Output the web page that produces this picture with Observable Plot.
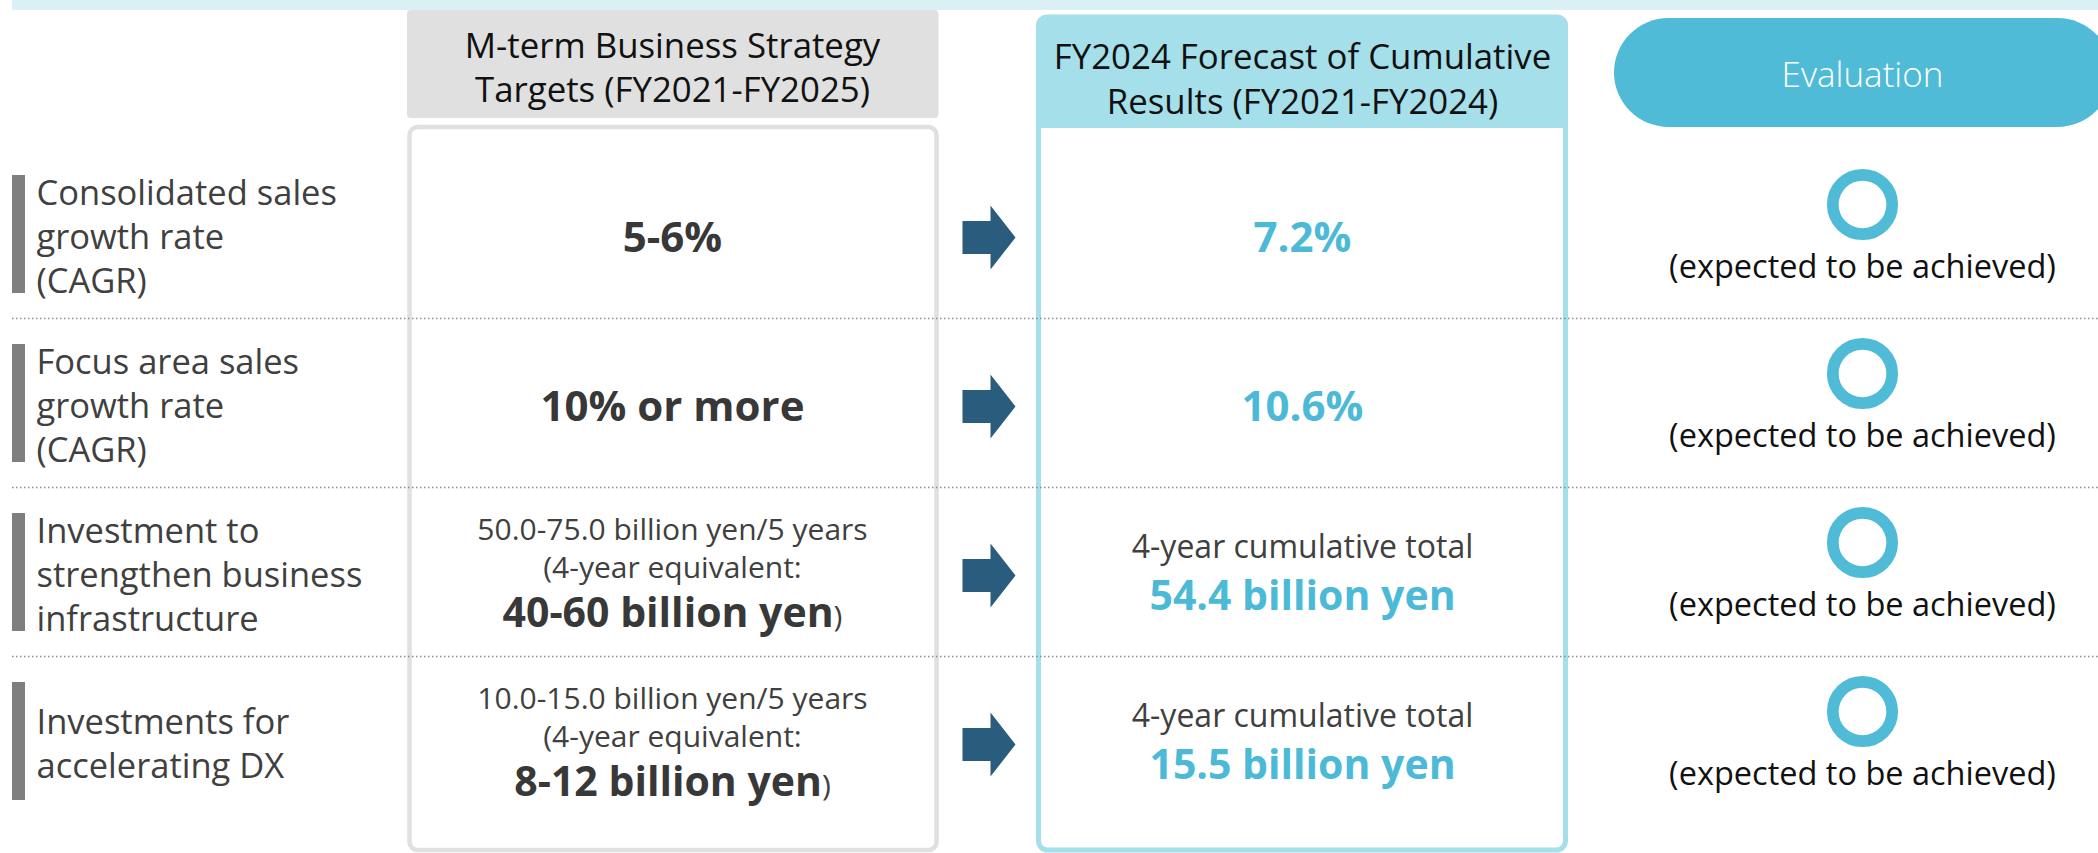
<!DOCTYPE html>
<html>
<head>
<meta charset="utf-8">
<script src="https://cdn.jsdelivr.net/npm/d3@7"></script>
<script src="https://cdn.jsdelivr.net/npm/@observablehq/plot@0.6"></script>
<style>
  html, body { margin: 0; padding: 0; background: #ffffff; }
  #chart svg { display: block; }
</style>
</head>
<body>
<div id="chart"></div>
<script>
// ---------------- data ----------------
const columnHeaders = [
  "M-term Business Strategy\nTargets (FY2021-FY2025)",
  "FY2024 Forecast of Cumulative\nResults (FY2021-FY2024)",
  "Evaluation"
];
const metricLabels = [
  ["Consolidated sales", "growth rate", "(CAGR)"],
  ["Focus area sales", "growth rate", "(CAGR)"],
  ["Investment to", "strengthen business", "infrastructure"],
  ["Investments for", "accelerating DX"]
];
const targetNotes = [
  [],
  [],
  ["50.0-75.0 billion yen/5 years", "(4-year equivalent:"],
  ["10.0-15.0 billion yen/5 years", "(4-year equivalent:"]
];
const targetValues = ["5-6%", "10% or more", "40-60 billion yen", "8-12 billion yen"];
const targetClosers = ["", "", ")", ")"];
const resultNotes = ["", "", "4-year cumulative total", "4-year cumulative total"];
const resultValues = ["7.2%", "10.6%", "54.4 billion yen", "15.5 billion yen"];
const evaluationAchieved = [true, true, true, true];
const evaluationTexts = [
  "(expected to be achieved)",
  "(expected to be achieved)",
  "(expected to be achieved)",
  "(expected to be achieved)"
];

// ---------------- layout & style ----------------
const W = 2098, H = 853;
const FONT = "'Open Sans', 'Noto Sans', sans-serif";
const ROW0 = 233.5, ROWSTEP = 169;
const rowC = i => ROW0 + ROWSTEP * i;
const X_LABEL = 36, X_TARGET = 672, X_RESULT = 1302, X_EVAL = 1862, X_ARROW = 988.5;
const FS_LABEL = 34.5, FS_HEAD = 34.8, FS_NOTE = 30, FS_NOTE3 = 32, FS_BIG = 42, FS_BIG2 = 41, FS_EVAL = 32.5;
const baseY = (b, fs) => b - 0.32 * fs;  // Plot centres single-line text with dy=0.32em
const C_TEXT = "#404040", C_BOLD = "#383838", C_BLUE = "#4cbad7", C_HEAD = "#111111";
const arrowShape = [[-26.5,-16.5],[1.5,-16.5],[1.5,-32],[26.5,0],[1.5,32],[1.5,16.5],[-26.5,16.5]];
const NOTE_LH = 38;

const idx = d3.range(metricLabels.length);

// measure text widths for the mixed-weight line
const ctx = document.createElement("canvas").getContext("2d");
function textWidth(str, weight, size) {
  ctx.font = `${weight} ${size}px ${FONT}`;
  return ctx.measureText(str).width;
}

// ---------------- derived mark tables ----------------
const labelRows = idx.map(i => ({i, text: metricLabels[i].join("\n")}));

const targetSingle = idx.filter(i => targetNotes[i].length === 0)
  .map(i => ({i, text: targetValues[i]}));
const targetNoteBlocks = idx.filter(i => targetNotes[i].length > 0)
  .map(i => ({i, n: targetNotes[i].length, text: targetNotes[i].join("\n")}));
const targetMulti = idx.filter(i => targetNotes[i].length > 0).map(i => {
  const wb = textWidth(targetValues[i], "bold", FS_BIG2);
  const wc = textWidth(targetClosers[i], "normal", FS_NOTE);
  const start = X_TARGET - (wb + wc) / 2;
  return {i, text: targetValues[i], closer: targetClosers[i], xb: start + wb / 2, xc: start + wb};
});

const resultSingle = idx.filter(i => resultNotes[i] === "").map(i => ({i, text: resultValues[i]}));
const resultMulti = idx.filter(i => resultNotes[i] !== "").map(i => ({i, note: resultNotes[i], text: resultValues[i]}));

const arrowPts = idx.flatMap(i => arrowShape.map(([dx, dy]) => ({i, x: X_ARROW + dx, y: rowC(i) + 3.5 + dy})));

const evalRows = idx.map(i => ({i, ok: evaluationAchieved[i], text: evaluationTexts[i]}));

const separators = idx.slice(0, -1).map(i => rowC(i) + 84.5);

const boxes = {
  band: [{x1: 12, x2: W, y1: 0, y2: 10}],
  grayBody: [{x1: 409.5, x2: 936.5, y1: 127, y2: 850}],
  grayHead: [{x1: 407, x2: 938.5, y1: 10, y2: 118}],
  blueBody: [{x1: 1038.5, x2: 1565.5, y1: 17, y2: 850}],
  blueHead: [{x1: 1036, x2: 1568, y1: 15, y2: 128}],
  blueHeadLow: [{x1: 1036, x2: 1568, y1: 60, y2: 128}],
  pill: [{x1: 1614, x2: 2112, y1: 18, y2: 127}]
};
const bars = idx.map(i => ({i, y1: rowC(i) - 58.5, y2: rowC(i) + 59.5}));

// ---------------- plot ----------------
const chart = Plot.plot({
  width: W,
  height: H,
  margin: 0,
  x: {domain: [0, W], range: [0, W], axis: null},
  y: {domain: [0, H], range: [0, H], axis: null},
  style: {background: "#ffffff", fontFamily: FONT},
  marks: [
    Plot.rect(boxes.band, {x1: "x1", x2: "x2", y1: "y1", y2: "y2", fill: "#dbf0f5"}),
    Plot.rect(boxes.grayBody, {x1: "x1", x2: "x2", y1: "y1", y2: "y2", fill: "#ffffff", stroke: "#e0e0e0", strokeWidth: 4.5, rx: 8}),
    Plot.rect(boxes.grayHead, {x1: "x1", x2: "x2", y1: "y1", y2: "y2", fill: "#e0e0e0", rx: 4}),
    Plot.rect(boxes.blueBody, {x1: "x1", x2: "x2", y1: "y1", y2: "y2", fill: "#ffffff", stroke: "#a5dfea", strokeWidth: 5, rx: 9}),
    Plot.rect(boxes.blueHead, {x1: "x1", x2: "x2", y1: "y1", y2: "y2", fill: "#a5dfea", rx: 10}),
    Plot.rect(boxes.blueHeadLow, {x1: "x1", x2: "x2", y1: "y1", y2: "y2", fill: "#a5dfea"}),
    Plot.rect(boxes.pill, {x1: "x1", x2: "x2", y1: "y1", y2: "y2", fill: "#4fbbd7", rx: 54.5}),

    Plot.ruleY(separators, {x1: 12, x2: W, stroke: "#8a8a8a", strokeWidth: 1.5, strokeDasharray: "1.5,2.5"}),

    Plot.rect(bars, {x1: () => 12, x2: () => 25, y1: "y1", y2: "y2", fill: "#7f7f7f"}),
    Plot.line(arrowPts, {x: "x", y: "y", z: "i", fill: "#2a5d7d", stroke: "none", curve: "linear"}),
    Plot.dot(evalRows.filter(d => d.ok), {x: () => X_EVAL, y: d => rowC(d.i) - 29.5, r: 29.7, stroke: "#4fbbd7", strokeWidth: 11.7, fill: "none"}),

    // headers
    Plot.text([columnHeaders[0]], {x: () => X_TARGET, y: () => 65, text: d => d, fontSize: FS_HEAD, lineHeight: 44.5 / FS_HEAD, fill: C_HEAD}),
    Plot.text([columnHeaders[1]], {x: () => X_RESULT, y: () => 76.5, text: d => d, fontSize: FS_HEAD, lineHeight: 45 / FS_HEAD, fill: C_HEAD}),
    Plot.text([columnHeaders[2]], {x: () => X_EVAL, y: () => baseY(86, 35), text: d => d, fontSize: 35, fontWeight: 300, fill: "#ffffff"}),

    // row labels
    Plot.text(labelRows, {x: () => X_LABEL, y: d => rowC(d.i) + 1, text: "text", textAnchor: "start", fontSize: FS_LABEL, lineHeight: 44 / FS_LABEL, fill: C_TEXT}),

    // targets
    Plot.text(targetSingle, {x: () => X_TARGET, y: d => baseY(rowC(d.i) + 17.5, FS_BIG), text: "text", fontSize: FS_BIG, fontWeight: "bold", fill: C_BOLD}),
    Plot.text(targetNoteBlocks, {x: () => X_TARGET, y: d => baseY(rowC(d.i) - 35 + NOTE_LH * (d.n - 1) / 2, FS_NOTE), text: "text", fontSize: FS_NOTE, lineHeight: NOTE_LH / FS_NOTE, fill: C_TEXT}),
    Plot.text(targetMulti, {x: "xb", y: d => baseY(rowC(d.i) + 54.5, FS_BIG2), text: "text", fontSize: FS_BIG2, fontWeight: "bold", fill: C_BOLD}),
    Plot.text(targetMulti, {x: "xc", y: d => baseY(rowC(d.i) + 54.5, FS_NOTE), text: "closer", textAnchor: "start", fontSize: FS_NOTE, fill: C_TEXT}),

    // results
    Plot.text(resultSingle, {x: () => X_RESULT, y: d => baseY(rowC(d.i) + 17.5, FS_BIG), text: "text", fontSize: FS_BIG, fontWeight: "bold", fill: C_BLUE}),
    Plot.text(resultMulti, {x: () => X_RESULT, y: d => baseY(rowC(d.i) - 14.5, FS_NOTE3), text: "note", fontSize: FS_NOTE3, fill: C_TEXT}),
    Plot.text(resultMulti, {x: () => X_RESULT, y: d => baseY(rowC(d.i) + 37.5, FS_BIG2), text: "text", fontSize: FS_BIG2, fontWeight: "bold", fill: C_BLUE}),

    // evaluation
    Plot.text(evalRows, {x: () => X_EVAL, y: d => baseY(rowC(d.i) + 43.5, FS_EVAL), text: "text", fontSize: FS_EVAL, fill: C_HEAD})
  ]
});
document.getElementById("chart").appendChild(chart);
</script>
</body>
</html>
